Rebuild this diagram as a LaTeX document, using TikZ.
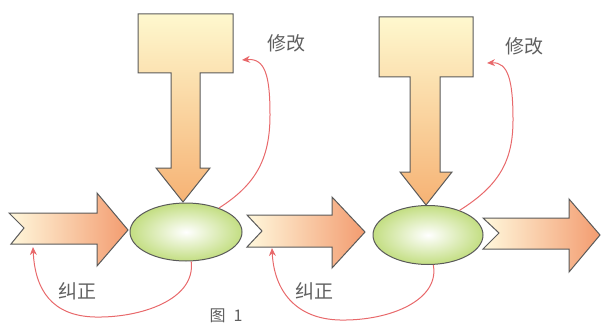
\documentclass[tikz,border=0pt]{standalone}
\usepackage{fontspec}
\newfontfamily\cjk{Noto Sans CJK SC}
\usetikzlibrary{shapes.geometric,arrows.meta}
\definecolor{outl}{HTML}{5A5A5A}
\definecolor{tTop}{HTML}{FEF8CE}
\definecolor{tBot}{HTML}{F6B274}
\definecolor{aL}{HTML}{FFF8DC}
\definecolor{aR}{HTML}{F39C70}
\definecolor{eg}{HTML}{C3DE82}
\definecolor{rd}{HTML}{E8696B}
\definecolor{tx}{HTML}{606060}
\tikzset{
  tshape/.style={draw=outl, line width=1pt, line join=miter, top color=tTop, bottom color=tBot},
  flowarrow/.style={draw=outl, line width=1pt, left color=aL, right color=aR},
  proc/.style={ellipse, draw=outl, line width=1pt, inner color=white, outer color=eg, inner sep=0pt},
  fb/.style={draw=rd, line width=1pt, -{Stealth[length=8pt,width=7pt]}},
  lbl/.style={text=tx, font=\cjk\fontsize{19}{19}\selectfont, inner sep=0pt}
}
\begin{document}
\begin{tikzpicture}[x=1pt,y=-1pt]
\useasboundingbox (0,0) rectangle (601,326);
% T shapes
\shadedraw[tshape] (138,14) -- (233,14) -- (233,73) -- (200,73) -- (200,168) -- (210,168) -- (183,202) -- (156,168) -- (171,168) -- (171,73) -- (138,73) -- cycle;
\shadedraw[tshape] (379,17) -- (473,17) -- (473,77) -- (440,77) -- (440,172) -- (452,172) -- (426,205) -- (400,172) -- (410,172) -- (410,77) -- (379,77) -- cycle;
% flow arrows
\shadedraw[flowarrow] (9,213) -- (97,213) -- (97,193) -- (128,230) -- (97,266) -- (97,244) -- (11,244) -- (24,228) -- cycle;
\shadedraw[flowarrow] (247,215) -- (332,215) -- (332,197) -- (365,232) -- (332,268) -- (332,247) -- (247,247) -- (262,231) -- cycle;
\shadedraw[flowarrow] (483,218) -- (569,218) -- (569,199) -- (600,235) -- (569,272) -- (569,249) -- (483,249) -- (499,233) -- cycle;
% process ellipses
\node[proc, minimum width=112pt, minimum height=58pt] (e1) at (186,232) {};
\node[proc, minimum width=110pt, minimum height=59pt] (e2) at (428,235) {};
% targets of feedback
\coordinate (m1) at (242,60);
\coordinate (m2) at (487,63);
\coordinate (c1) at (33,247);
\coordinate (c2) at (272,248);
% feedback curves
\draw[fb] (e1.36) .. controls (255,185) and (270,160) .. (270,115) .. controls (270,75) and (265,58) .. (m1);
\draw[fb] (e2.38) .. controls (500,185) and (513,160) .. (513,120) .. controls (513,80) and (508,62) .. (m2);
\draw[fb] (e1.-80) .. controls (196,300) and (140,318) .. (95,317) .. controls (52,316) and (35,290) .. (c1);
\draw[fb] (e2.-80) .. controls (440,300) and (390,321) .. (340,320) .. controls (295,319) and (274,290) .. (c2);
% labels
\node[lbl] (l1) at (286,43) {修改};
\node[lbl] (l2) at (524,46) {修改};
\node[lbl] (l3) at (77,291) {纠正};
\node[lbl] (l4) at (314,291) {纠正};
\node[lbl, font=\cjk\fontsize{16}{16}\selectfont] (cap) at (226,316) {图\hspace{8pt}1};
\end{tikzpicture}
\end{document}
